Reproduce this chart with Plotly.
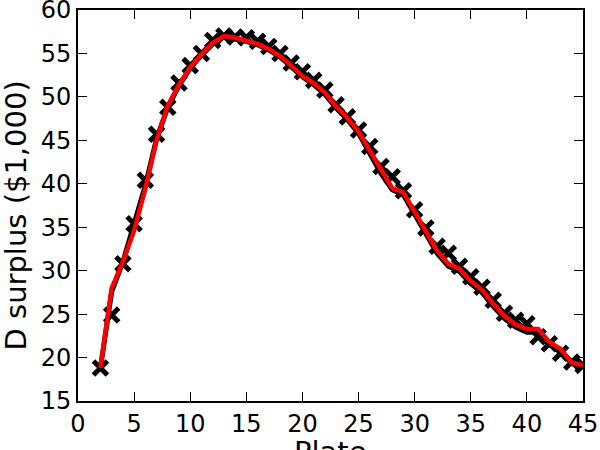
import plotly.graph_objects as go

plate = list(range(2, 46))
surplus_obs = [18.8, 24.9, 30.8, 35.4, 40.4, 45.7, 48.8, 51.6, 53.6, 55.0,
               56.5, 57.0, 56.9, 56.8, 56.4, 55.8, 55.0, 53.9, 52.9, 51.9,
               50.8, 49.1, 47.7, 46.2, 44.3, 42.0, 40.8, 39.2, 37.0, 34.9,
               32.8, 32.0, 30.5, 29.3, 28.1, 26.6, 25.1, 24.3, 23.9, 22.4,
               21.6, 20.5, 19.5, 19.1]
surplus_black = [18.8, 27.6, 31.0, 35.3, 39.8, 45.2, 48.8, 51.3, 53.3, 54.8,
                 56.1, 56.9, 56.7, 56.4, 56.0, 55.4, 54.6, 53.5, 52.3, 51.4,
                 50.3, 48.7, 47.4, 45.8, 43.6, 41.2, 39.3, 38.7, 36.5, 34.2,
                 32.0, 30.5, 29.9, 28.5, 27.5, 25.9, 24.5, 23.5, 22.9, 22.9,
                 21.5, 20.8, 19.3, 18.9]
surplus_red = [18.8, 28.0, 31.0, 34.6, 39.4, 45.0, 49.0, 51.4, 53.4, 54.9,
               56.2, 57.0, 56.8, 56.5, 56.1, 55.5, 54.7, 53.6, 52.4, 51.6,
               50.5, 48.9, 47.6, 46.0, 43.8, 41.5, 39.5, 39.0, 36.8, 34.5,
               32.3, 30.8, 30.2, 28.8, 27.8, 26.2, 24.8, 23.8, 23.3, 23.3,
               21.8, 21.0, 19.4, 19.1]

x_ticks = [0, 5, 10, 15, 20, 25, 30, 35, 40, 45]
y_ticks = [15, 20, 25, 30, 35, 40, 45, 50, 55, 60]
x_label = "Plate"
y_label = "D surplus ($1,000)"

fig = go.Figure()
fig.add_trace(go.Scatter(
    x=plate, y=surplus_obs, mode="markers",
    marker=dict(symbol="x-thin", size=14, line=dict(color="black", width=5)),
    showlegend=False))
fig.add_trace(go.Scatter(
    x=plate, y=surplus_black, mode="lines",
    line=dict(color="black", width=5), showlegend=False))
fig.add_trace(go.Scatter(
    x=plate, y=surplus_red, mode="lines",
    line=dict(color="#ff0000", width=4.5), showlegend=False))

tick_font = dict(family="DejaVu Sans", size=24, color="black")
label_font = dict(family="DejaVu Sans", size=29, color="black")
axis_common = dict(
    showgrid=False, zeroline=False, showline=True, linecolor="black",
    linewidth=2, mirror="ticks", ticks="inside", ticklen=9, tickwidth=1.2,
    tickcolor="black", tickfont=tick_font, ticklabeloverflow="allow",
    automargin=False)

fig.update_layout(
    width=600, height=450,
    margin=dict(l=78, r=17, t=10, b=49),
    paper_bgcolor="white", plot_bgcolor="white",
    font=tick_font,
    xaxis=dict(range=[0, 45], tickvals=x_ticks, **axis_common),
    yaxis=dict(range=[15, 60], tickvals=y_ticks, **axis_common),
    annotations=[
        dict(text=x_label, xref="paper", yref="paper", x=0.5, y=0,
             xanchor="center", yanchor="top", yshift=-32, showarrow=False,
             font=label_font),
        dict(text=y_label, xref="paper", yref="paper", x=0, y=0.5,
             xanchor="center", yanchor="middle", xshift=-63, yshift=-10,
             textangle=-90, showarrow=False, font=label_font),
    ],
)

fig.write_html("out.html", config={"displayModeBar": False},
               post_script="document.body.style.margin='0px';")
